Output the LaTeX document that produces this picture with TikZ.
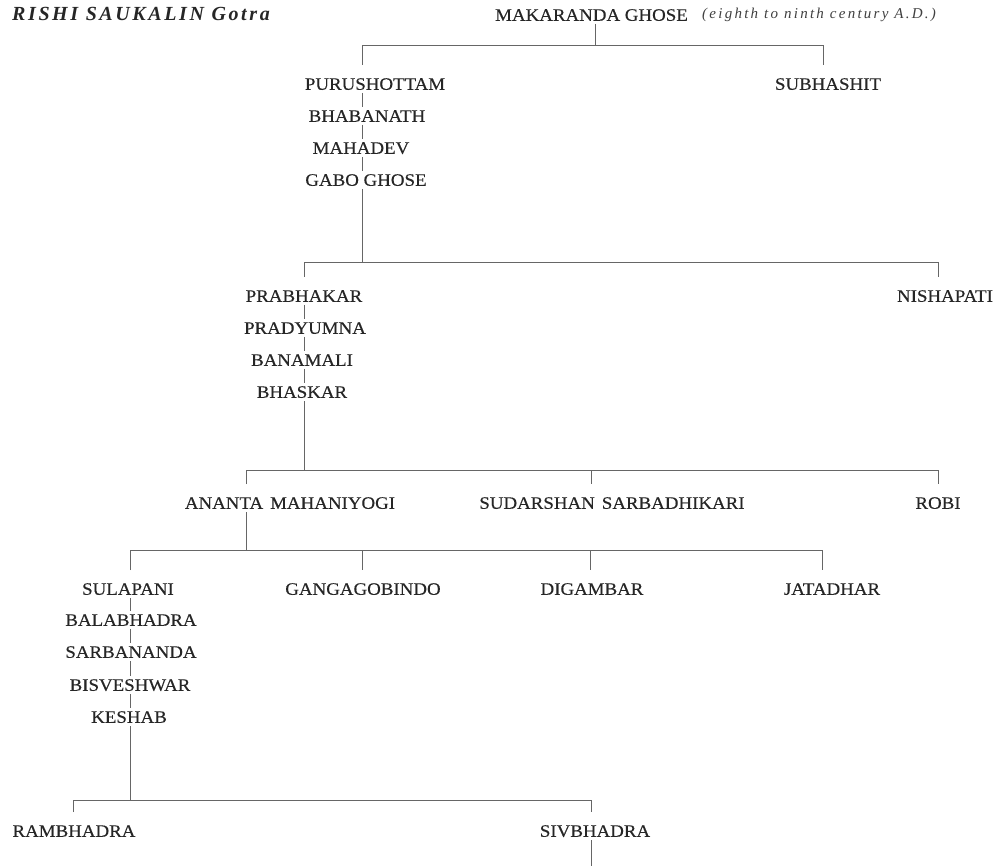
\documentclass[tikz,border=0pt]{standalone}
\usepackage{fontspec}
\setmainfont{Liberation Serif}[FakeStretch=1.08, FakeBold=0.35]
\newfontfamily\notefont{Liberation Serif}[LetterSpace=15]
\newfontfamily\titlefont{Liberation Serif}[LetterSpace=13]
\begin{document}
\begin{tikzpicture}[x=1pt,y=-1pt,
  nm/.style={font=\fontsize{17.5}{21}\selectfont, text=black!85, inner xsep=0pt, inner ysep=3pt, text height=11.6pt, text depth=0pt},
  ttl/.style={font=\titlefont\fontsize{20}{22}\selectfont\bfseries\itshape, text=black!85, inner sep=0pt, anchor=west},
  nt/.style={font=\notefont\fontsize{15}{17}\selectfont\itshape, text=black!75, inner sep=0pt, anchor=west},
  ln/.style={draw=black!60, line width=0.9pt},
  drop/.style={ln, shorten <=10pt, shorten >=10pt}]
\useasboundingbox (0,0) rectangle (1001,866);
\fill[white] (0,0) rectangle (1001,866);

% title
\node[ttl] (title) at (12,14) {RISHI SAUKALIN Gotra};
\node[nm, anchor=west] (mak) at (495,15) {MAKARANDA GHOSE};
\node[nt] (note) at (702,15) {(eighth to ninth century A.D.)};

% x positions of lines
\coordinate (xmak) at (595,0);
\coordinate (xa) at (362,0);
\coordinate (xsub) at (823,0);
\coordinate (xb) at (304,0);
\coordinate (xnis) at (938,0);
\coordinate (xana) at (246,0);
\coordinate (xsud) at (591,0);
\coordinate (xrob) at (938,0);
\coordinate (xc) at (130,0);
\coordinate (xgan) at (362,0);
\coordinate (xdig) at (590,0);
\coordinate (xjat) at (822,0);
\coordinate (xram) at (73,0);
\coordinate (xsiv) at (591,0);
% bar levels
\coordinate (b1) at (0,45);
\coordinate (b2) at (0,262);
\coordinate (b3) at (0,470);
\coordinate (b4) at (0,550);
\coordinate (b5) at (0,800);
\coordinate (bot) at (591,866);

% nodes
\node[nm] (pur) at (375,84) {PURUSHOTTAM};
\node[nm] (sub) at (828,84) {SUBHASHIT};
\node[nm] (bha) at (367,116) {BHABANATH};
\node[nm] (mah) at (361,148) {MAHADEV};
\node[nm] (gab) at (366,180) {GABO GHOSE};
\node[nm] (pra) at (304,296) {PRABHAKAR};
\node[nm] (nis) at (945,296) {NISHAPATI};
\node[nm] (prd) at (305,328) {PRADYUMNA};
\node[nm] (ban) at (302,360) {BANAMALI};
\node[nm] (bhs) at (302,392) {BHASKAR};
\node[nm] (ana) at (290,503) {ANANTA\hspace{0.4em}MAHANIYOGI};
\node[nm] (sud) at (612,503) {SUDARSHAN\hspace{0.4em}SARBADHIKARI};
\node[nm] (rob) at (938,503) {ROBI};
\node[nm] (sul) at (128,589) {SULAPANI};
\node[nm] (gan) at (363,589) {GANGAGOBINDO};
\node[nm] (dig) at (592,589) {DIGAMBAR};
\node[nm] (jat) at (832,589) {JATADHAR};
\node[nm] (bal) at (131,620) {BALABHADRA};
\node[nm] (sar) at (131,652) {SARBANANDA};
\node[nm] (bis) at (130,685) {BISVESHWAR};
\node[nm] (kes) at (129,717) {KESHAB};
\node[nm] (ram) at (74,831) {RAMBHADRA};
\node[nm] (siv) at (595,831) {SIVBHADRA};

% MAKARANDA -> PURUSHOTTAM, SUBHASHIT
\draw[ln] (mak.south -| xmak) -- (xmak |- b1);
\draw[drop] (pur.north -| xa) |- (b1 -| xsub) -- (sub.north -| xsub);
% chain
\draw[ln] (pur.south -| xa) -- (bha.north -| xa);
\draw[ln] (bha.south -| xa) -- (mah.north -| xa);
\draw[ln] (mah.south -| xa) -- (gab.north -| xa);
% GABO -> PRABHAKAR, NISHAPATI
\draw[ln] (gab.south -| xa) -- (xa |- b2);
\draw[drop] (pra.north -| xb) |- (b2 -| xnis) -- (nis.north -| xnis);
\draw[ln] (pra.south -| xb) -- (prd.north -| xb);
\draw[ln] (prd.south -| xb) -- (ban.north -| xb);
\draw[ln] (ban.south -| xb) -- (bhs.north -| xb);
% BHASKAR -> ANANTA, SUDARSHAN, ROBI
\draw[ln] (bhs.south -| xb) -- (xb |- b3);
\draw[drop] (ana.north -| xana) |- (b3 -| xrob) -- (rob.north -| xrob);
\draw[drop, shorten <=0pt] (xsud |- b3) -- (sud.north -| xsud);
% ANANTA -> four sons
\draw[ln] (ana.south -| xana) -- (xana |- b4);
\draw[drop] (sul.north -| xc) |- (b4 -| xjat) -- (jat.north -| xjat);
\draw[drop, shorten <=0pt] (xgan |- b4) -- (gan.north -| xgan);
\draw[drop, shorten <=0pt] (xdig |- b4) -- (dig.north -| xdig);
% chain SULAPANI -> KESHAB
\draw[ln] (sul.south -| xc) -- (bal.north -| xc);
\draw[ln] (bal.south -| xc) -- (sar.north -| xc);
\draw[ln] (sar.south -| xc) -- (bis.north -| xc);
\draw[ln] (bis.south -| xc) -- (kes.north -| xc);
% KESHAB -> RAMBHADRA, SIVBHADRA
\draw[ln] (kes.south -| xc) -- (xc |- b5);
\draw[drop] (ram.north -| xram) |- (b5 -| xsiv) -- (siv.north -| xsiv);
\draw[ln] (siv.south -| xsiv) -- (bot);
\end{tikzpicture}
\end{document}
